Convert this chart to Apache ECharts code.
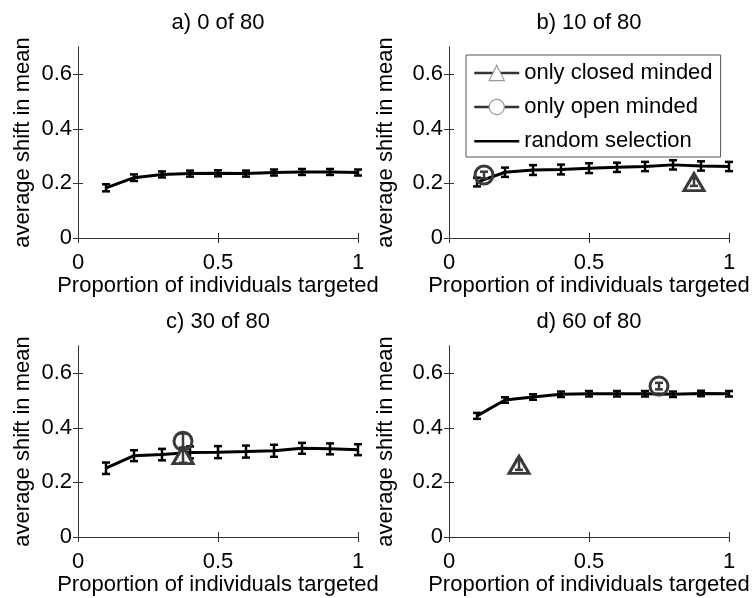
<!DOCTYPE html>
<html>
<head>
<meta charset="utf-8">
<script src="https://cdn.jsdelivr.net/npm/echarts@6/dist/echarts.min.js"></script>
<style>
  html, body { margin: 0; padding: 0; background: #fff; }
  #chart { width: 754px; height: 598px; }
</style>
</head>
<body>
<div id="chart"></div>
<script>
// Tick positions and panel titles
const xTicks = [0, 0.5, 1];
const yTicks = [0, 0.2, 0.4, 0.6];
const panelTitles = ['a) 0 of 80', 'b) 10 of 80', 'c) 30 of 80', 'd) 60 of 80'];
const seriesNames = ['only closed minded', 'only open minded', 'random selection'];

// Proportion of individuals targeted (random selection)
const fractions = [0.1, 0.2, 0.3, 0.4, 0.5, 0.6, 0.7, 0.8, 0.9, 1.0];

// Random selection: mean shift and error per panel
const randomA = [0.184, 0.221, 0.233, 0.236, 0.237, 0.236, 0.240, 0.242, 0.242, 0.240];
const randomAErr = [0.013, 0.012, 0.011, 0.011, 0.011, 0.011, 0.011, 0.011, 0.011, 0.011];
const randomB = [0.205, 0.241, 0.249, 0.251, 0.256, 0.259, 0.262, 0.268, 0.264, 0.262];
const randomBErr = [0.016, 0.017, 0.018, 0.018, 0.018, 0.017, 0.017, 0.017, 0.017, 0.017];
const randomC = [0.252, 0.298, 0.302, 0.310, 0.311, 0.313, 0.316, 0.325, 0.323, 0.320];
const randomCErr = [0.021, 0.020, 0.021, 0.022, 0.022, 0.022, 0.022, 0.020, 0.020, 0.020];
const randomD = [0.444, 0.502, 0.513, 0.523, 0.525, 0.525, 0.525, 0.523, 0.526, 0.525];
const randomDErr = [0.011, 0.010, 0.010, 0.010, 0.010, 0.010, 0.010, 0.010, 0.010, 0.010];

// Targeted selections: [proportion, mean shift, error]
const closedB = [0.875, 0.205, 0.014];
const openB = [0.125, 0.231, 0.012];
const closedC = [0.375, 0.300, 0.028];
const openC = [0.375, 0.351, 0.028];
const closedD = [0.25, 0.264, 0.018];
const openD = [0.75, 0.553, 0.012];

const randomMeans = [randomA, randomB, randomC, randomD];
const randomErrs = [randomAErr, randomBErr, randomCErr, randomDErr];
const closedPoints = [null, closedB, closedC, closedD];
const openPoints = [null, openB, openC, openD];

const FONT = '"Liberation Sans", Arial, Helvetica, sans-serif';
const AXIS_COLOR = '#333';
const MARKER_COLOR = '#3a3a3a';

// Panel layout
const grids = [
  { left: 78, top: 47, width: 280, height: 191 },
  { left: 449, top: 47, width: 280, height: 191 },
  { left: 78, top: 346, width: 280, height: 191 },
  { left: 449, top: 346, width: 280, height: 191 }
];
const yNameGaps = [44, 52, 44, 52];

function errorBar(params, api) {
  const x = api.value(0), y = api.value(1), e = api.value(2);
  const hi = api.coord([x, y + e]);
  const lo = api.coord([x, y - e]);
  const half = 4;
  const style = { stroke: api.visual('color'), lineWidth: 2.5 };
  return {
    type: 'group',
    children: [
      { type: 'line', shape: { x1: hi[0], y1: hi[1], x2: lo[0], y2: lo[1] }, style },
      { type: 'line', shape: { x1: hi[0] - half, y1: hi[1], x2: hi[0] + half, y2: hi[1] }, style },
      { type: 'line', shape: { x1: lo[0] - half, y1: lo[1], x2: lo[0] + half, y2: lo[1] }, style }
    ]
  };
}

const xAxes = [], yAxes = [], series = [], graphics = [];

grids.forEach((g, i) => {
  const base = {
    gridIndex: i, type: 'value', min: 0,
    axisLine: { show: true, lineStyle: { color: AXIS_COLOR, width: 1 } },
    axisTick: { show: true, inside: true, length: 5, lineStyle: { color: AXIS_COLOR } },
    splitLine: { show: false }
  };
  // bottom x axis with labels
  xAxes.push(Object.assign({}, base, {
    position: 'bottom', max: 1, interval: 0.5,
    axisLabel: { show: true, margin: 14, fontSize: 22, color: '#000', fontFamily: FONT,
      customValues: xTicks },
    axisTick: Object.assign({}, base.axisTick, { customValues: xTicks }),
    name: 'Proportion of individuals targeted', nameLocation: 'middle', nameGap: 25,
    nameTextStyle: { fontSize: 22, color: '#000', fontFamily: FONT }
  }));
  // top x axis (box edge, ticks only)
  xAxes.push(Object.assign({}, base, {
    position: 'top', max: 1, interval: 0.5,
    axisLabel: { show: false },
    axisTick: Object.assign({}, base.axisTick, { customValues: xTicks })
  }));
  // left y axis with labels
  yAxes.push(Object.assign({}, base, {
    position: 'left', max: 0.7, interval: 0.2,
    axisLabel: { show: true, margin: 6, fontSize: 22, color: '#000', fontFamily: FONT,
      customValues: yTicks },
    axisTick: Object.assign({}, base.axisTick, { customValues: yTicks }),
    name: 'average shift in mean', nameLocation: 'middle', nameGap: yNameGaps[i],
    nameTextStyle: { fontSize: 22, color: '#000', fontFamily: FONT }
  }));
  // right y axis (box edge, ticks only)
  yAxes.push(Object.assign({}, base, {
    position: 'right', max: 0.7, interval: 0.2,
    axisLabel: { show: false },
    axisTick: Object.assign({}, base.axisTick, { customValues: yTicks })
  }));

  const xi = i * 2, yi = i * 2;

  series.push({
    name: 'random selection', type: 'line', xAxisIndex: xi, yAxisIndex: yi,
    data: fractions.map((f, j) => [f, randomMeans[i][j]]),
    symbol: 'none', lineStyle: { color: '#000', width: 3 }, itemStyle: { color: '#000' },
    z: 2, silent: true
  });
  series.push({
    name: 'random selection', type: 'custom', xAxisIndex: xi, yAxisIndex: yi,
    renderItem: errorBar, itemStyle: { color: '#000' },
    data: fractions.map((f, j) => [f, randomMeans[i][j], randomErrs[i][j]]),
    z: 3, silent: true
  });

  const c = closedPoints[i], o = openPoints[i];
  if (c) {
    series.push({
      name: 'only closed minded', type: 'line', xAxisIndex: xi, yAxisIndex: yi,
      data: [[c[0], c[1]]], symbol: 'triangle', symbolSize: [20, 17],
      itemStyle: { color: '#fff', borderColor: MARKER_COLOR, borderWidth: 3 },
      lineStyle: { color: MARKER_COLOR, width: 2 }, z: 4, silent: true
    });
    series.push({
      name: 'only closed minded', type: 'custom', xAxisIndex: xi, yAxisIndex: yi,
      renderItem: errorBar, itemStyle: { color: MARKER_COLOR },
      data: [c], z: 5, silent: true
    });
  }
  if (o) {
    series.push({
      name: 'only open minded', type: 'line', xAxisIndex: xi, yAxisIndex: yi,
      data: [[o[0], o[1]]], symbol: 'circle', symbolSize: 18,
      itemStyle: { color: 'rgba(255,255,255,0)', borderColor: MARKER_COLOR, borderWidth: 3 },
      lineStyle: { color: MARKER_COLOR, width: 2 }, z: 4, silent: true
    });
    series.push({
      name: 'only open minded', type: 'custom', xAxisIndex: xi, yAxisIndex: yi,
      renderItem: errorBar, itemStyle: { color: MARKER_COLOR },
      data: [o], z: 5, silent: true
    });
  }

  graphics.push({
    type: 'text', x: g.left + g.width / 2, y: g.top - 24,
    style: { text: panelTitles[i], align: 'center', verticalAlign: 'middle',
      font: '22px ' + FONT, fill: '#000' }
  });
});

const chart = echarts.init(document.getElementById('chart'), null, { renderer: 'canvas' });
chart.setOption({
  animation: false,
  backgroundColor: '#fff',
  grid: grids,
  xAxis: xAxes,
  yAxis: yAxes,
  series: series,
  graphic: graphics,
  legend: {
    orient: 'vertical', left: 466, top: 55,
    padding: [7, 8, 5, 7], itemGap: 12, itemWidth: 45, itemHeight: 19, itemTextGap: 5,
    backgroundColor: '#fff', borderColor: '#555', borderWidth: 1,
    textStyle: { fontSize: 22, color: '#000', fontFamily: FONT },
    selectedMode: false,
    data: [
      { name: seriesNames[0], itemStyle: { color: '#fff', borderColor: '#999', borderWidth: 1.2 },
        lineStyle: { color: '#333', width: 2.5 } },
      { name: seriesNames[1], itemStyle: { color: '#fff', borderColor: '#999', borderWidth: 1.2 },
        lineStyle: { color: '#333', width: 2.5 } },
      { name: seriesNames[2], icon: 'path://M0,0 M0,8.5 h45 v2.5 h-45 z M45,19',
        itemStyle: { color: '#000', borderWidth: 0 } }
    ]
  }
});
</script>
</body>
</html>
